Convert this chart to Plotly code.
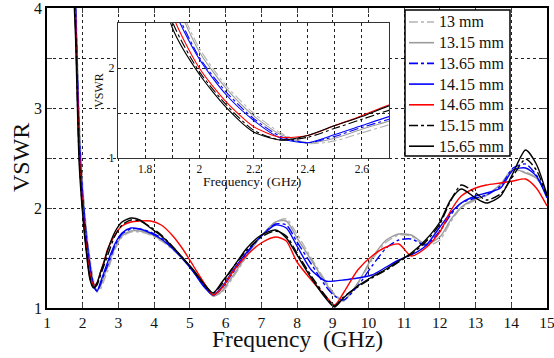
import plotly.graph_objects as go

freq = [1.70, 1.80, 1.90, 2.00, 2.10, 2.20, 2.30, 2.40, 2.50, 2.60, 2.70, 2.90, 3.10, 3.35, 3.60,
        3.90, 4.20, 4.50, 4.80, 5.10, 5.40, 5.65, 5.90, 6.20, 6.60, 7.00, 7.40, 7.70, 8.00, 8.40,
        8.80, 9.05, 9.30, 9.70, 10.10, 10.50, 10.85, 11.20, 11.60, 12.00, 12.30, 12.60, 13.00,
        13.30, 13.70, 14.05, 14.40, 14.70, 15.00]

vswr_13_00 = [5.0, 4.2, 2.9, 2.22, 1.80, 1.50, 1.28, 1.16, 1.19, 1.28, 1.37, 1.58, 1.71, 1.76, 1.76,
              1.73, 1.67, 1.59, 1.49, 1.37, 1.22, 1.12, 1.16, 1.30, 1.52, 1.72, 1.86, 1.89, 1.74, 1.50,
              1.27, 1.14, 1.08, 1.24, 1.48, 1.66, 1.73, 1.72, 1.62, 1.68, 1.86, 2.00, 2.08,
              2.12, 2.23, 2.37, 2.36, 2.30, 2.15]
vswr_13_15 = [5.0, 4.1, 2.85, 2.18, 1.77, 1.47, 1.26, 1.17, 1.22, 1.32, 1.41, 1.60, 1.72, 1.77, 1.77,
              1.74, 1.68, 1.60, 1.50, 1.38, 1.23, 1.12, 1.17, 1.32, 1.53, 1.72, 1.86, 1.87, 1.70, 1.48,
              1.25, 1.13, 1.07, 1.25, 1.50, 1.68, 1.74, 1.73, 1.64, 1.71, 1.88, 2.01, 2.09,
              2.13, 2.24, 2.39, 2.35, 2.30, 2.14]
vswr_13_65 = [4.9, 4.0, 2.75, 2.12, 1.73, 1.44, 1.24, 1.17, 1.24, 1.34, 1.43, 1.62, 1.74, 1.79, 1.79,
              1.76, 1.70, 1.61, 1.50, 1.37, 1.22, 1.13, 1.20, 1.35, 1.55, 1.72, 1.84, 1.83, 1.66, 1.44,
              1.22, 1.12, 1.08, 1.22, 1.42, 1.60, 1.68, 1.69, 1.63, 1.77, 1.93, 2.05, 2.10,
              2.13, 2.22, 2.40, 2.44, 2.33, 2.12]
vswr_14_15 = [4.9, 4.0, 2.7, 2.1, 1.70, 1.42, 1.22, 1.17, 1.26, 1.36, 1.46, 1.64, 1.75, 1.80, 1.79,
              1.75, 1.69, 1.60, 1.49, 1.36, 1.21, 1.13, 1.21, 1.37, 1.56, 1.72, 1.83, 1.80, 1.62, 1.38,
              1.27, 1.27, 1.28, 1.30, 1.33, 1.41, 1.48, 1.53, 1.62, 1.81, 1.95, 2.05, 2.12,
              2.15, 2.20, 2.38, 2.40, 2.32, 2.10]
vswr_14_65 = [4.8, 3.9, 2.6, 2.0, 1.62, 1.35, 1.23, 1.25, 1.36, 1.47, 1.59, 1.73, 1.82, 1.86, 1.87,
              1.87, 1.83, 1.73, 1.59, 1.42, 1.25, 1.13, 1.20, 1.36, 1.53, 1.65, 1.71, 1.67, 1.46, 1.28,
              1.12, 1.03, 1.15, 1.38, 1.52, 1.61, 1.64, 1.52, 1.60, 1.76, 1.97, 2.12, 2.20,
              2.23, 2.25, 2.27, 2.29, 2.20, 2.02]
vswr_15_15 = [4.6, 3.8, 2.52, 1.96, 1.59, 1.31, 1.20, 1.23, 1.33, 1.43, 1.53, 1.72, 1.83, 1.88, 1.87,
              1.81, 1.73, 1.62, 1.50, 1.37, 1.23, 1.15, 1.24, 1.40, 1.58, 1.71, 1.77, 1.72, 1.55, 1.32,
              1.12, 1.02, 1.11, 1.21, 1.30, 1.38, 1.46, 1.54, 1.66, 1.84, 2.07, 2.23, 2.15,
              2.08, 2.14, 2.32, 2.49, 2.38, 2.12]
vswr_15_65 = [4.6, 3.7, 2.45, 1.93, 1.56, 1.29, 1.20, 1.25, 1.36, 1.46, 1.58, 1.76, 1.86, 1.90, 1.88,
              1.80, 1.72, 1.62, 1.50, 1.38, 1.24, 1.15, 1.26, 1.40, 1.60, 1.73, 1.78, 1.70, 1.53, 1.30,
              1.10, 1.01, 1.10, 1.22, 1.31, 1.39, 1.47, 1.55, 1.68, 1.86, 2.08, 2.19, 2.10,
              2.05, 2.12, 2.35, 2.58, 2.44, 2.13]

series = [
    ("13 mm", vswr_13_00, "#b4b4b4", "dashdot"),
    ("13.15 mm", vswr_13_15, "#9c9c9c", "solid"),
    ("13.65 mm", vswr_13_65, "#0000ff", "dashdot"),
    ("14.15 mm", vswr_14_15, "#0000ff", "solid"),
    ("14.65 mm", vswr_14_65, "#ff0000", "solid"),
    ("15.15 mm", vswr_15_15, "#000000", "dashdot"),
    ("15.65 mm", vswr_15_65, "#000000", "solid"),
]

FONT = "Times New Roman, Liberation Serif, DejaVu Serif, serif"
fig = go.Figure()
for name, vals, col, dash in series:
    fig.add_trace(go.Scatter(x=freq, y=vals, name=name, mode="lines", showlegend=False,
                             line=dict(color=col, dash=dash, width=1.4, shape="spline", smoothing=0.7),
                             xaxis="x", yaxis="y"))
for name, vals, col, dash in series:
    fig.add_trace(go.Scatter(x=freq, y=vals, name=name, mode="lines", showlegend=False,
                             line=dict(color=col, dash=dash, width=1.1, shape="spline", smoothing=0.7),
                             xaxis="x2", yaxis="y2"))

main_y_ticks = [1, 1.5, 2, 2.5, 3, 3.5, 4]
main_y_text = ["1", "", "2", "", "3", "", "4"]
main_x_ticks = list(range(1, 16))
inset_x_ticks = [1.7, 1.8, 1.9, 2.0, 2.1, 2.2, 2.3, 2.4, 2.5, 2.6, 2.7]
inset_x_text = ["", "1.8", "", "2", "", "2.2", "", "2.4", "", "2.6", ""]
inset_y_ticks = [1, 1.5, 2, 2.5]
inset_y_text = ["1", "", "2", ""]

# plot-area geometry in pixels (for paper-coordinate placement of decorations)
W, H = 554, 358
ML, MR, MT, MB = 47, 7, 8, 50
PW, PH = W - ML - MR, H - MT - MB


def px(x):
    return (x - ML) / PW


def py(y):
    return (H - MB - y) / PH


grid = dict(showgrid=True, gridcolor="#222222", gridwidth=0.8, griddash="dot", automargin=False,
            ticklabeloverflow="allow")
fig.update_layout(
    width=W, height=H,
    margin=dict(l=ML, r=MR, t=MT, b=MB, autoexpand=False),
    paper_bgcolor="white", plot_bgcolor="white",
    font=dict(family=FONT, color="#111111"),
    xaxis=dict(range=[1, 15], tickvals=main_x_ticks, ticks="inside", ticklen=5,
               showline=True, linecolor="black", linewidth=1.5, mirror="ticks",
               tickfont=dict(size=15.5, family=FONT), zeroline=False, **grid),
    yaxis=dict(range=[1, 4], tickvals=main_y_ticks, ticktext=main_y_text, ticks="inside", ticklen=5,
               showline=True, linecolor="black", linewidth=1.5, mirror="ticks",
               tickfont=dict(size=16, family=FONT), zeroline=False, **grid),
    xaxis2=dict(domain=[px(118), px(389)], anchor="y2", range=[1.7, 2.7], tickvals=inset_x_ticks,
                ticktext=inset_x_text, ticks="", showline=True, linecolor="#333333", linewidth=1,
                mirror=True, tickfont=dict(size=11.5, family=FONT), zeroline=False, **grid),
    yaxis2=dict(domain=[py(158), py(23)], anchor="x2", range=[1, 2.5], tickvals=inset_y_ticks,
                ticktext=inset_y_text, ticks="", showline=True, linecolor="#333333", linewidth=1,
                mirror=True, tickfont=dict(size=12, family=FONT), zeroline=False,
                title=dict(text="VSWR", font=dict(size=12, family=FONT), standoff=2), **grid),
    showlegend=False,
)

annotations = [
    dict(text="Frequency  (GHz)", xref="paper", yref="paper", x=0.5, y=py(339),
         xanchor="center", yanchor="middle", showarrow=False, font=dict(size=23.5, family=FONT)),
    dict(text="VSWR", xref="paper", yref="paper", x=px(21), y=0.5, textangle=-90,
         xanchor="center", yanchor="middle", showarrow=False, font=dict(size=24, family=FONT)),
    dict(text="Frequency  (GHz)", xref="paper", yref="paper", x=px(252), y=py(181),
         xanchor="center", yanchor="middle", showarrow=False, font=dict(size=13.5, family=FONT)),
]
shapes = [
    dict(type="rect", xref="x2 domain", yref="y2 domain", x0=0, x1=1, y0=0, y1=1,
         fillcolor="white", line=dict(width=0), layer="below"),
    dict(type="rect", xref="paper", yref="paper", x0=px(405), x1=px(510), y0=py(156), y1=py(10),
         fillcolor="white", line=dict(color="black", width=1.5), layer="above"),
]
# hand-drawn legend (matches the reference's compact box)
LEG_TOP, LEG_STEP = 22, 20.7
for i, (name, vals, col, dash) in enumerate(series):
    yy = py(LEG_TOP + LEG_STEP * i)
    shapes.append(dict(type="line", xref="paper", yref="paper", x0=px(409), x1=px(434), y0=yy, y1=yy,
                       line=dict(color=col, dash=dash, width=1.6), layer="above"))
    annotations.append(dict(text=name, xref="paper", yref="paper", x=px(437), y=yy,
                            xanchor="left", yanchor="middle", showarrow=False,
                            font=dict(size=16, family=FONT, color="#111111")))
fig.update_layout(shapes=shapes, annotations=annotations)
fig.write_html("out.html", config={"displayModeBar": False},
               post_script="document.body.style.margin='0';document.body.style.overflow='hidden';")
